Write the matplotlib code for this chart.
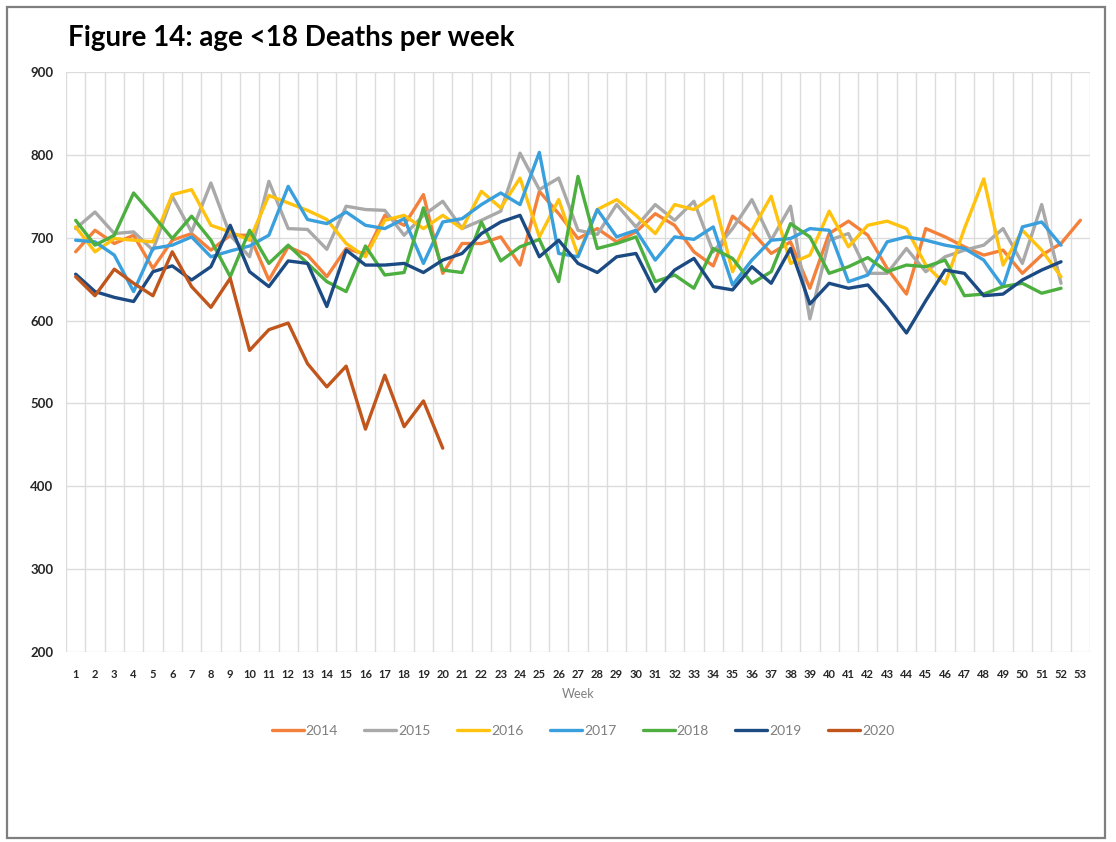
import matplotlib
matplotlib.use("Agg")
import matplotlib.pyplot as plt
from matplotlib.patches import Rectangle
from matplotlib.ticker import MultipleLocator, FixedLocator

weeks = list(range(1, 54))
years = ["2014", "2015", "2016", "2017", "2018", "2019", "2020"]

y2014 = [683, 709, 693, 703, 663, 697, 705, 685, 703, 703, 649, 689, 679, 653, 687, 680, 727, 715, 752, 657,
         693, 693, 701, 667, 756, 729, 699, 711, 695, 707, 729, 715, 683, 666, 726, 707, 681, 695, 639, 705,
         720, 703, 663, 632, 711, 701, 689, 679, 685, 657, 679, 693, 721]
y2015 = [711, 731, 705, 707, 685, 750, 707, 766, 703, 677, 768, 711, 710, 686, 738, 734, 733, 703, 727, 744,
         711, 721, 732, 802, 758, 772, 709, 704, 740, 713, 740, 721, 744, 683, 711, 746, 697, 738, 602, 697,
         705, 657, 657, 687, 659, 677, 685, 691, 711, 669, 740, 645]
y2016 = [713, 683, 699, 697, 695, 752, 758, 715, 707, 697, 751, 742, 733, 722, 693, 677, 721, 727, 711, 727,
         711, 756, 736, 772, 701, 746, 679, 734, 746, 727, 705, 740, 734, 750, 659, 709, 750, 669, 679, 732,
         689, 715, 720, 711, 667, 644, 711, 771, 667, 709, 685, 653]
y2017 = [697, 695, 679, 635, 687, 691, 701, 677, 684, 690, 703, 762, 722, 717, 731, 715, 711, 723, 669, 719,
         723, 740, 754, 740, 803, 681, 677, 734, 701, 709, 673, 701, 698, 713, 643, 673, 697, 699, 711, 709,
         647, 655, 695, 701, 697, 691, 687, 673, 641, 713, 719, 691]
y2018 = [721, 691, 703, 754, 727, 699, 726, 697, 653, 709, 669, 691, 669, 647, 635, 690, 655, 658, 736, 661,
         658, 719, 672, 689, 698, 647, 774, 687, 693, 701, 647, 655, 639, 687, 675, 645, 659, 717, 701, 657,
         665, 676, 659, 667, 665, 673, 630, 632, 641, 645, 633, 639]
y2019 = [656, 635, 628, 623, 659, 666, 649, 665, 715, 659, 641, 672, 669, 617, 685, 667, 667, 669, 658, 673,
         681, 705, 719, 727, 677, 697, 669, 658, 677, 681, 635, 661, 675, 641, 637, 665, 645, 687, 620, 645,
         639, 643, 616, 585, 624, 661, 657, 630, 632, 649, 661, 671]
y2020 = [653, 630, 662, 645, 630, 683, 641, 616, 651, 564, 589, 597, 548, 520, 545, 469, 534, 472, 503, 446]

series = [y2014, y2015, y2016, y2017, y2018, y2019, y2020]
colors = ["#F4813B", "#A9A9A9", "#FFC20E", "#3A9FDD", "#4DAF3F", "#1C4B84", "#C0561C"]

W, H = 1116, 842
fig = plt.figure(figsize=(W / 100, H / 100), dpi=100)
fig.patch.set_facecolor("white")

# outer border
fig.patches.append(Rectangle((7 / W, 1 - 838 / H), (1105 - 7) / W, (838 - 7) / H,
                             transform=fig.transFigure, fill=False,
                             edgecolor="#7F7F7F", linewidth=1.6, zorder=0))

ax = fig.add_axes([66 / W, 1 - 652 / H, (1090 - 66) / W, (652 - 72) / H])
for name, vals, c in zip(years, series, colors):
    ax.plot(weeks[:len(vals)], vals, color=c, linewidth=2.4, label=name,
            solid_joinstyle="round", solid_capstyle="round", zorder=3)

ax.set_xlim(0.5, 53.5)
ax.set_ylim(200, 900)
ax.yaxis.set_major_locator(MultipleLocator(100))
ax.xaxis.set_major_locator(FixedLocator(weeks))
ax.set_xticks([w + 0.5 for w in range(0, 54)], minor=True)
ax.set_xticklabels([str(w) for w in weeks], fontsize=8, fontweight="bold",
                   color="#262626", family="Lato")
for lbl in ax.get_yticklabels():
    lbl.set_fontsize(9.5)
    lbl.set_fontweight("bold")
    lbl.set_family("Lato")
    lbl.set_color("#262626")

ax.grid(axis="y", which="major", color="#DCDCDC", linewidth=1.0, zorder=0)
ax.grid(axis="x", which="minor", color="#DCDCDC", linewidth=1.0, zorder=0)
ax.grid(axis="x", which="major", visible=False)
ax.tick_params(axis="both", which="both", length=0)
ax.tick_params(axis="x", pad=12)
ax.tick_params(axis="y", pad=9)
for s in ax.spines.values():
    s.set_visible(False)

ax.set_xlabel("Week", fontsize=9, color="#7F7F7F", family="Lato", labelpad=6)

fig.text(68 / W, 1 - 38 / H, "Figure 14: age <18 Deaths per week", fontsize=20,
         fontweight="bold", family="Lato", color="black", va="center", ha="left")

leg = fig.legend(loc="center", bbox_to_anchor=(583 / W, 1 - 731 / H), ncol=7,
                 frameon=False, handlelength=2.3, handletextpad=0.15,
                 columnspacing=1.9, prop={"family": "Lato", "size": 10})
for t in leg.get_texts():
    t.set_color("#7F7F7F")

fig.savefig("out.png", dpi=100, facecolor="white")
